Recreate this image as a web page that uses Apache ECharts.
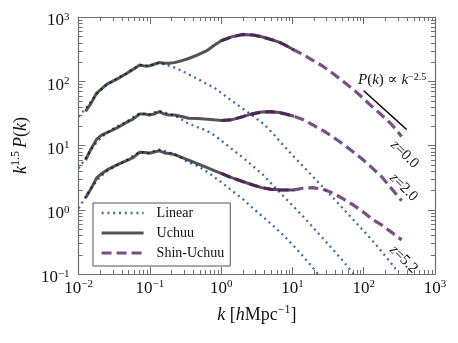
<!DOCTYPE html>
<html>
<head>
<meta charset="utf-8">
<script src="https://cdn.jsdelivr.net/npm/echarts@6/dist/echarts.min.js"></script>
<style>
  html, body { margin: 0; padding: 0; background: #fff; }
  #chart { width: 458px; height: 343px; }
</style>
</head>
<body>
<div id="chart"></div>
<script>
// k grids [h/Mpc] and k^1.5 P(k)
var kLinear = [0.01, 0.0125, 0.015, 0.018, 0.021, 0.025, 0.034, 0.047, 0.058, 0.072, 0.085, 0.098, 0.115, 0.135,
	0.16, 0.2, 0.25, 0.33, 0.45, 0.6, 0.8, 1.0, 1.4, 2.0, 2.8, 4.0, 5.5, 7.5, 10, 14, 20, 28, 40, 55, 75, 100, 140, 200, 280];
var linearZ0 = [28.1, 37.2, 49.0, 63.1, 75.9, 89.1, 110, 132, 155, 178, 174, 172, 184, 195,
	184, 170, 155, 132, 111, 93.3, 79.4, 66.1, 50.1, 37.6, 28.8, 21.4, 14.8, 10, 7.08, 4.79, 3.16, 2.14, 1.41, 0.955, 0.661, 0.468, 0.309, 0.191, 0.120];
var linearZ2 = [4.42, 6.31, 8.71, 11.2, 13.5, 15.8, 19.5, 23.4, 27.5, 31.6, 30.9, 30.5, 32.7, 34.3,
	32.7, 30.2, 27.5, 22.6, 19.5, 17.4, 14.5, 12.0, 8.91, 6.53, 4.79, 3.39, 2.32, 1.62, 1.17, 0.794, 0.513, 0.339, 0.219, 0.145, 0.0955, 0.0676, 0.045, 0.03, 0.02];
var linearZ52 = [1.05, 1.58, 2.19, 2.82, 3.39, 3.98, 4.90, 5.89, 6.92, 7.94, 7.76, 7.67, 8.22, 8.61,
	8.22, 7.59, 6.92, 5.62, 4.90, 4.07, 3.24, 2.69, 2.0, 1.48, 1.05, 0.75, 0.55, 0.398, 0.288, 0.191, 0.120, 0.0759, 0.05, 0.035, 0.025, 0.018, 0.013, 0.009, 0.006];

var kUchuu = [0.0125, 0.015, 0.018, 0.021, 0.025, 0.034, 0.047, 0.058, 0.072, 0.085, 0.098, 0.115, 0.135, 0.16, 0.185,
	0.22, 0.28, 0.35, 0.47, 0.65, 0.8, 1.0, 1.4, 2.0, 2.8, 3.7, 5.0, 6.5, 8.0, 10.5];
var uchuuZ0 = [33.9, 45.7, 66.1, 75.9, 90.2, 107, 132, 153, 179, 172, 173, 184, 195, 191, 190,
	195, 209, 226, 257, 306, 363, 427, 490, 535, 525, 493, 447, 407, 363, 306];
var uchuuZ2 = [5.94, 8.91, 12.6, 14.5, 15.8, 18.6, 22.9, 25.7, 30.9, 30.9, 29.9, 30.9, 33.6, 30.9, 29.9,
	29.9, 28.2, 26.6, 26.3, 25.7, 25.1, 24.5, 25.1, 28.1, 31.3, 33.1, 33.6, 32.7, 30.9, 28.5];
var uchuuZ52 = [1.53, 2.14, 3.16, 3.63, 4.17, 4.95, 5.82, 6.46, 7.85, 7.76, 7.59, 7.94, 8.30, 7.67, 7.50,
	7.24, 6.53, 5.92, 5.19, 4.47, 4.07, 3.69, 3.16, 2.75, 2.43, 2.21, 2.08, 2.04, 2.03, 2.03];

var kShin = [1.0, 1.4, 2.0, 2.8, 3.7, 5.0, 6.5, 8.0, 10.5, 14, 19, 27, 37, 50, 70, 95, 130, 180, 250, 340];
var shinZ0 = [427, 490, 535, 525, 493, 447, 407, 363, 306, 263, 214, 170, 132, 102, 75.9, 56.2, 40.7, 29.5, 20.9, 13.8];
var shinZ2 = [24.5, 25.1, 28.1, 31.3, 33.1, 33.6, 32.7, 30.9, 28.5, 25.4, 21.1, 17.0, 13.6, 10.7, 8.04, 6.17, 4.52, 3.24, 2.09, 1.38];
var shinZ52 = [3.69, 3.16, 2.75, 2.43, 2.21, 2.08, 2.04, 2.03, 2.04, 2.16, 2.21, 2.09, 1.82, 1.51, 1.20, 0.955, 0.72, 0.575, 0.44, 0.34];

// P(k) ~ k^-2.5 guide segment
var powK = [100, 400];
var powVal = [71, 17.75];

var xTickDecades = [-2, -1, 0, 1, 2];
var yTickDecades = [-1, 0, 1, 2];

var SERIF = '"Liberation Serif", "DejaVu Serif", serif';
var AXIS_COLOR = '#707070';

function pairs(ks, vals) {
	var out = [];
	for (var i = 0; i < ks.length; i++)
		out.push([ks[i], vals[i]]);
	return out;
}

function expLabel(v) {
	var e = Math.round(Math.log10(v));
	return '{b|10}{s|' + (e < 0 ? '\u2212' + (-e) : e) + '}';
}

var labelRich = {
	b: { fontFamily: SERIF, fontSize: 17, lineHeight: 18, padding: [3, 0, 0, 0], verticalAlign: 'bottom', color: '#111' },
	s: { fontFamily: SERIF, fontSize: 11, lineHeight: 12, verticalAlign: 'top', color: '#111' }
};
var mathRich = {
	i: { fontFamily: SERIF, fontStyle: 'italic', fontSize: 18, lineHeight: 20, padding: [4, 0, 0, 0], verticalAlign: 'bottom', color: '#111' },
	n: { fontFamily: SERIF, fontSize: 18, lineHeight: 20, padding: [4, 0, 0, 0], verticalAlign: 'bottom', color: '#111' },
	s: { fontFamily: SERIF, fontSize: 12, lineHeight: 12, verticalAlign: 'top', color: '#111' }
};

function makeXAxis(pos) {
	return {
		type: 'log', logBase: 10, min: 0.01, max: 1000, position: pos, splitNumber: 5,
		axisLine: { show: true, lineStyle: { color: AXIS_COLOR, width: 1.2 } },
		axisTick: { show: true, inside: true, length: 7, lineStyle: { color: AXIS_COLOR } },
		splitLine: { show: false },
		axisLabel: { show: pos === 'bottom', margin: 5, formatter: expLabel, rich: labelRich, showMinLabel: true, showMaxLabel: true }
	};
}
function makeYAxis(pos) {
	return {
		type: 'log', logBase: 10, min: 0.1, max: 1000, position: pos, splitNumber: 4,
		axisLine: { show: true, lineStyle: { color: AXIS_COLOR, width: 1.2 } },
		axisTick: { show: true, inside: true, length: 7, lineStyle: { color: AXIS_COLOR } },
		splitLine: { show: false },
		axisLabel: { show: pos === 'left', margin: 9, padding: [7, 0, 0, 0], formatter: expLabel, rich: labelRich, showMinLabel: true, showMaxLabel: true }
	};
}

var LINEAR_STYLE = { color: '#3a6fa8', width: 2.3, type: [2, 3.8] };
var UCHUU_STYLE = { color: '#000', width: 3, opacity: 0.67 };
var SHIN_STYLE = { color: 'rgb(75,20,95)', width: 3.2, type: [10, 5], opacity: 0.75 };

function lineSeries(name, data, style, z) {
	return {
		name: name, type: 'line', data: data, symbol: 'none', showSymbol: false,
		clip: true, z: z, lineStyle: style, itemStyle: { color: style.color, opacity: style.opacity }
	};
}

var xA = makeXAxis('bottom');
xA.name = '{i|k}{n| [}{i|h}{n|Mpc}{s|\u22121}{n|]}';
xA.nameLocation = 'middle';
xA.nameGap = 27;
xA.nameTextStyle = { rich: mathRich };
var yA = makeYAxis('left');
yA.name = '{i|k}{s|1.5 }{i|P}{n|(}{i|k}{n|)}';
yA.nameLocation = 'middle';
yA.nameGap = 40;
yA.nameTextStyle = { rich: mathRich };

var chart = echarts.init(document.getElementById('chart'));
chart.setOption({
	animation: false,
	backgroundColor: '#fff',
	grid: { left: 69, right: 23, top: 17, bottom: 69 },
	xAxis: [xA, makeXAxis('top')],
	yAxis: [yA, makeYAxis('right')],
	legend: {
		data: [
			{ name: 'Linear', lineStyle: { width: 2.3 } },
			{ name: 'Uchuu', lineStyle: { width: 3 } },
			{ name: 'Shin-Uchuu', lineStyle: { width: 3.2 } }
		],
		orient: 'vertical', left: 93, top: 203,
		padding: [3, 6, 6, 7], itemGap: 6, itemWidth: 42, itemHeight: 14,
		backgroundColor: '#fff', borderColor: '#555', borderWidth: 1,
		itemStyle: { opacity: 0 },
		textStyle: { fontFamily: SERIF, fontSize: 14, color: '#111', padding: [0, 0, 0, 8] }
	},
	series: [
		lineSeries('Linear', pairs(kLinear, linearZ0), LINEAR_STYLE, 2),
		lineSeries('Linear', pairs(kLinear, linearZ2), LINEAR_STYLE, 2),
		lineSeries('Linear', pairs(kLinear, linearZ52), LINEAR_STYLE, 2),
		lineSeries('Uchuu', pairs(kUchuu, uchuuZ0), UCHUU_STYLE, 3),
		lineSeries('Uchuu', pairs(kUchuu, uchuuZ2), UCHUU_STYLE, 3),
		lineSeries('Uchuu', pairs(kUchuu, uchuuZ52), UCHUU_STYLE, 3),
		lineSeries('Shin-Uchuu', pairs(kShin, shinZ0), SHIN_STYLE, 4),
		lineSeries('Shin-Uchuu', pairs(kShin, shinZ2), SHIN_STYLE, 4),
		lineSeries('Shin-Uchuu', pairs(kShin, shinZ52), SHIN_STYLE, 4),
		lineSeries('powerlaw', pairs(powK, powVal), { color: '#000', width: 1.5 }, 5)
	]
});

// minor log ticks (2..9 in each decade) on all four sides, plus text labels
function buildGraphics() {
	var els = [];
	var left = chart.convertToPixel({ xAxisIndex: 0 }, 0.01);
	var right = chart.convertToPixel({ xAxisIndex: 0 }, 1000);
	var bottom = chart.convertToPixel({ yAxisIndex: 0 }, 0.1);
	var top = chart.convertToPixel({ yAxisIndex: 0 }, 1000);
	var tickStyle = { stroke: AXIS_COLOR, lineWidth: 1 };
	var len = 4;
	for (var i = 0; i < xTickDecades.length; i++) {
		for (var m = 2; m <= 9; m++) {
			var x = Math.round(chart.convertToPixel({ xAxisIndex: 0 }, m * Math.pow(10, xTickDecades[i]))) + 0.5;
			els.push({ type: 'line', silent: true, shape: { x1: x, y1: bottom, x2: x, y2: bottom - len }, style: tickStyle });
			els.push({ type: 'line', silent: true, shape: { x1: x, y1: top, x2: x, y2: top + len }, style: tickStyle });
		}
	}
	for (var j = 0; j < yTickDecades.length; j++) {
		for (var n = 2; n <= 9; n++) {
			var y = Math.round(chart.convertToPixel({ yAxisIndex: 0 }, n * Math.pow(10, yTickDecades[j]))) + 0.5;
			els.push({ type: 'line', silent: true, shape: { x1: left, y1: y, x2: left + len, y2: y }, style: tickStyle });
			els.push({ type: 'line', silent: true, shape: { x1: right, y1: y, x2: right - len, y2: y }, style: tickStyle });
		}
	}

	var smallRich = {
		i: { fontFamily: SERIF, fontStyle: 'italic', fontSize: 15, lineHeight: 16, padding: [4, 0, 0, 0], verticalAlign: 'bottom', fill: '#111' },
		n: { fontFamily: SERIF, fontSize: 15, lineHeight: 16, padding: [4, 0, 0, 0], verticalAlign: 'bottom', fill: '#111' },
		s: { fontFamily: SERIF, fontSize: 10, lineHeight: 11, verticalAlign: 'top', fill: '#111' }
	};
	els.push({
		type: 'text', silent: true, x: 358, y: 80,
		style: { text: '{i|P}{n|(}{i|k}{n|) \u221d }{i|k}{s|\u22122.5}', rich: smallRich, verticalAlign: 'middle', align: 'left' }
	});
	var zLabels = [['0.0', 405, 154], ['2.0', 404, 187], ['5.2', 404, 259]];
	for (var z = 0; z < zLabels.length; z++) {
		els.push({
			type: 'text', silent: true, x: zLabels[z][1], y: zLabels[z][2], rotation: -0.78,
			style: { text: '{i|z}{n|=' + zLabels[z][0] + '}', rich: smallRich, align: 'center', verticalAlign: 'middle' }
		});
	}
	chart.setOption({ graphic: els });
}
buildGraphics();
</script>
</body>
</html>
